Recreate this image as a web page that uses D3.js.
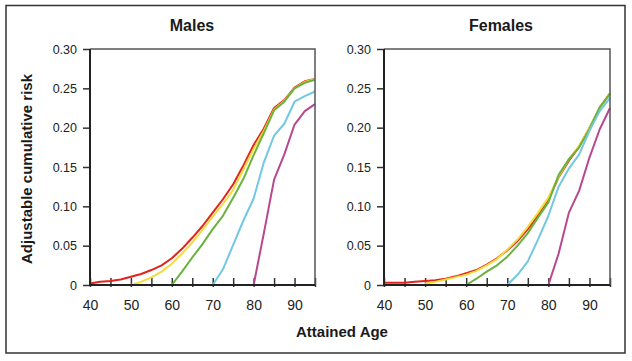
<!DOCTYPE html>
<html lang="en">

<head>
    <meta charset="UTF-8">
    <title>Adjustable cumulative risk</title>
    <style>
        body {
            padding: 0;
            margin: 0;
            background: #fff;
        }

        svg {
            display: block;
            font-family: Arial, "Liberation Sans", sans-serif;
        }
    </style>
</head>

<body>
    <script src="https://d3js.org/d3.v7.min.js"></script>
    <script>
        // attained age grid (years)
        const ages = [40, 42.5, 45, 47.5, 50, 52.5, 55, 57.5, 60, 62.5, 65, 67.5, 70, 72.5, 75, 77.5, 80, 82.5, 85, 87.5, 90, 92.5, 95]

        // one curve per age at start (40, 50, 60, 70, 80)
        const startAges = [40, 50, 60, 70, 80]
        const colors = ['#e2231a', '#f3dc3c', '#6ab23e', '#72c8e2', '#b8478f']

        // males
        const maleFrom40 = [0.002, 0.004, 0.005, 0.007, 0.0105, 0.014, 0.019, 0.025, 0.034, 0.046, 0.060, 0.075, 0.092, 0.109, 0.128, 0.152, 0.178, 0.199, 0.225, 0.235, 0.251, 0.259, 0.262]
        const maleFrom50 = [null, null, null, null, 0, 0.004, 0.0097, 0.017, 0.027, 0.040, 0.054, 0.070, 0.087, 0.103, 0.121, 0.147, 0.173, 0.196, 0.223, 0.234, 0.250, 0.258, 0.262]
        const maleFrom60 = [null, null, null, null, null, null, null, null, 0, 0.017, 0.035, 0.052, 0.071, 0.088, 0.111, 0.135, 0.165, 0.193, 0.222, 0.233, 0.250, 0.257, 0.261]
        const maleFrom70 = [null, null, null, null, null, null, null, null, null, null, null, null, 0, 0.020, 0.051, 0.082, 0.110, 0.156, 0.190, 0.205, 0.233, 0.240, 0.246]
        const maleFrom80 = [null, null, null, null, null, null, null, null, null, null, null, null, null, null, null, null, 0, 0.066, 0.134, 0.166, 0.204, 0.221, 0.230]

        // females
        const femaleFrom40 = [0.003, 0.003, 0.003, 0.004, 0.005, 0.006, 0.008, 0.011, 0.015, 0.019, 0.026, 0.034, 0.044, 0.056, 0.071, 0.089, 0.109, 0.137, 0.158, 0.176, 0.200, 0.225, 0.244]
        const femaleFrom50 = [null, null, null, null, 0.002, 0.004, 0.007, 0.010, 0.013, 0.018, 0.025, 0.033, 0.045, 0.058, 0.074, 0.092, 0.111, 0.138, 0.160, 0.177, 0.200, 0.225, 0.244]
        const femaleFrom60 = [null, null, null, null, null, null, null, null, 0, 0.008, 0.017, 0.025, 0.036, 0.050, 0.066, 0.086, 0.105, 0.140, 0.160, 0.175, 0.198, 0.226, 0.243]
        const femaleFrom70 = [null, null, null, null, null, null, null, null, null, null, null, null, 0, 0.013, 0.030, 0.058, 0.088, 0.125, 0.148, 0.166, 0.196, 0.221, 0.238]
        const femaleFrom80 = [null, null, null, null, null, null, null, null, null, null, null, null, null, null, null, null, 0, 0.040, 0.092, 0.120, 0.162, 0.198, 0.225]

        // axis ticks
        const yTicks = [0, 0.05, 0.10, 0.15, 0.20, 0.25, 0.30]
        const xTicks = [40, 45, 50, 55, 60, 65, 70, 75, 80, 85, 90, 95]
        const xLabels = [40, 50, 60, 70, 80, 90]

        const panels = [{
            title: 'Males',
            left: 90,
            right: 315,
            titleX: 192,
            series: [maleFrom40, maleFrom50, maleFrom60, maleFrom70, maleFrom80]
        }, {
            title: 'Females',
            left: 384,
            right: 610,
            titleX: 501,
            series: [femaleFrom40, femaleFrom50, femaleFrom60, femaleFrom70, femaleFrom80]
        }]

        const width = 632
        const height = 361
        const plotTop = 49
        const plotBottom = 285

        const svg = d3.select('body')
            .append('svg')
            .attr('width', width)
            .attr('height', height)

        // outer frame
        svg.append('rect')
            .attr('x', 6)
            .attr('y', 5.5)
            .attr('width', 619)
            .attr('height', 347.5)
            .attr('fill', 'none')
            .attr('stroke', '#333')
            .attr('stroke-width', 1.5)

        const y = d3.scaleLinear().domain([0, 0.3]).range([plotBottom, plotTop])

        panels.forEach(p => {
            const x = d3.scaleLinear().domain([40, 95]).range([p.left, p.right])
            const g = svg.append('g')

            // title
            g.append('text')
                .attr('x', p.titleX)
                .attr('y', 31)
                .attr('text-anchor', 'middle')
                .attr('font-size', 16)
                .attr('font-weight', 'bold')
                .attr('fill', '#1a1a1a')
                .text(p.title)

            // y axis
            const yAxis = g.append('g')
                .attr('transform', `translate(${p.left},0)`)
                .call(d3.axisLeft(y)
                    .tickValues(yTicks)
                    .tickSize(7)
                    .tickPadding(6)
                    .tickFormat(d => d === 0 ? '0' : d3.format('.2f')(d)))
            yAxis.select('.domain').remove()
            yAxis.selectAll('line').attr('stroke', '#333').attr('stroke-width', 1.5)
            yAxis.selectAll('text')
                .attr('font-size', 12.5)
                .attr('font-family', 'Arial, "Liberation Sans", sans-serif')
                .attr('fill', '#222')

            // x axis (ticks point into the plot)
            const xAxis = g.append('g')
                .attr('transform', `translate(0,${plotBottom + 2})`)
                .call(d3.axisBottom(x)
                    .tickValues(xTicks)
                    .tickSize(-9)
                    .tickFormat(d => xLabels.includes(d) ? d : ''))
            xAxis.select('.domain').remove()
            xAxis.selectAll('line').attr('stroke', '#333').attr('stroke-width', 1.5)
            xAxis.selectAll('text')
                .attr('y', 13)
                .attr('dy', '0.71em')
                .attr('font-size', 14)
                .attr('font-family', 'Arial, "Liberation Sans", sans-serif')
                .attr('fill', '#222')

            // curves
            const line = d3.line()
                .defined(d => d[1] != null)
                .x(d => x(d[0]))
                .y(d => y(d[1]))

            p.series.forEach((vals, i) => {
                g.append('path')
                    .datum(ages.map((a, j) => [a, vals[j]]))
                    .attr('fill', 'none')
                    .attr('stroke', colors[i])
                    .attr('stroke-width', 2)
                    .attr('stroke-linejoin', 'round')
                    .attr('d', line)
            })

            // plot box
            g.append('path')
                .attr('d', `M${p.left},${plotTop}H${p.right}V${plotBottom}`)
                .attr('fill', 'none')
                .attr('stroke', '#555')
                .attr('stroke-width', 1.5)
            g.append('path')
                .attr('d', `M${p.left},${plotTop}V${plotBottom}H${p.right}`)
                .attr('fill', 'none')
                .attr('stroke', '#222')
                .attr('stroke-width', 2)
        })

        // axis titles
        svg.append('text')
            .attr('transform', 'translate(32,169) rotate(-90)')
            .attr('text-anchor', 'middle')
            .attr('font-size', 15)
            .attr('font-weight', 'bold')
            .attr('fill', '#1a1a1a')
            .text('Adjustable cumulative risk')

        svg.append('text')
            .attr('x', 342)
            .attr('y', 337)
            .attr('text-anchor', 'middle')
            .attr('font-size', 15)
            .attr('font-weight', 'bold')
            .attr('fill', '#1a1a1a')
            .text('Attained Age')
    </script>
</body>

</html>
